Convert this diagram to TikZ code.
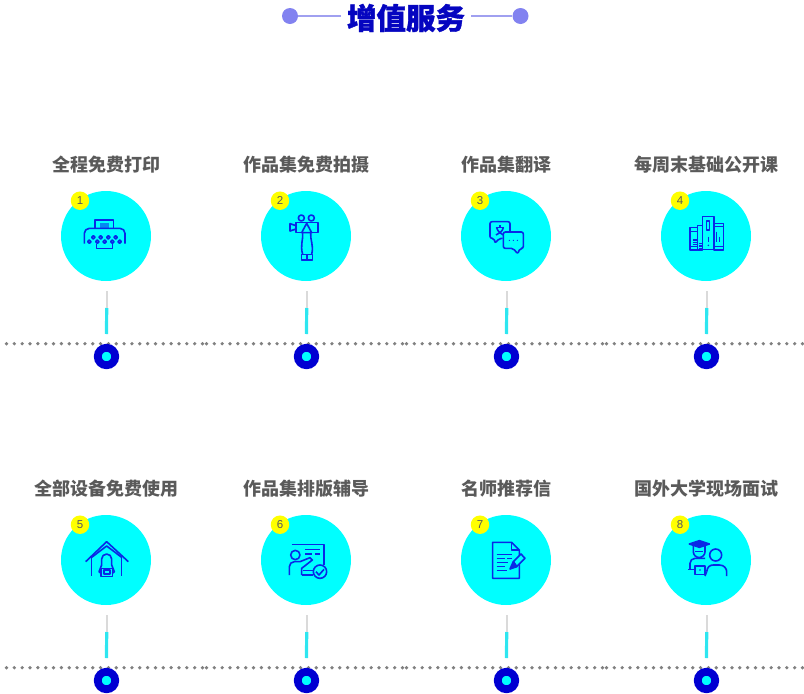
\documentclass[tikz,border=0pt]{standalone}
\usepackage{fontspec}
\usepackage{xcolor}
\usetikzlibrary{calc}
\newfontfamily\cjk{Noto Sans CJK SC}
\newfontfamily\cjkhead{Noto Sans CJK SC}[BoldFeatures={FakeBold=1.2}]
\setmainfont{Liberation Sans}
\definecolor{titleblue}{HTML}{0505C0}
\definecolor{dotblue}{HTML}{8282F0}
\definecolor{ruleblue}{HTML}{A0A0F0}
\definecolor{iconblue}{HTML}{0A28E6}
\definecolor{ringblue}{HTML}{0000D2}
\definecolor{headgrey}{HTML}{5A5A5A}
\definecolor{disccyan}{HTML}{00FFFF}
\definecolor{stemcyan}{HTML}{2EE6F0}
\definecolor{stemgrey}{HTML}{DADADA}
\definecolor{dotgrey}{HTML}{808080}
\definecolor{badgeyellow}{HTML}{FFFF00}
\tikzset{
  headline/.style={inner sep=0, font=\cjkhead\bfseries\fontsize{29.5}{30}\selectfont, text=titleblue},
  headdot/.style={circle, fill=dotblue, minimum size=16pt, inner sep=0},
  headrule/.style={draw=ruleblue, line width=1.2pt},
  itemname/.style={inner sep=0, font=\cjk\bfseries\fontsize{18}{18}\selectfont, text=headgrey},
  itemdisc/.style={circle, fill=disccyan, minimum size=90pt, inner sep=0},
  itembadge/.style={circle, fill=badgeyellow, minimum size=18.5pt, inner sep=0, text=headgrey, font=\fontsize{11.5}{12}\selectfont},
  itemring/.style={circle, draw=ringblue, fill=disccyan, line width=7.8pt, minimum size=17.5pt, inner sep=0},
  stemtop/.style={draw=stemgrey, line width=2pt},
  stemlow/.style={draw=stemcyan, line width=3.2pt},
  dotrule/.style={draw=dotgrey, line width=3.7pt, line cap=round, dash pattern=on 0pt off 7.84pt},
  icongrid/.style={shift={(#1.center)}, x=.3333pt, y=-.3333pt, shift={(-168,-153)},
    draw=iconblue, line width=1.6pt, line join=round},
  icongridlow/.style={shift={(#1.center)}, x=.3333pt, y=-.3333pt, shift={(-168,-150)},
    draw=iconblue, line width=1.6pt, line join=round},
}
% one service: name, x, y of the disc, title, number
\newcommand{\serviceitem}[5]{
  \node[itemdisc] (#1) at (#2, #3) {};
  \node[itemname] (#1name) at (#2+.5, #3-71.2) {#4};
  \node[itembadge] (#1badge) at (#2-26, #3-35.3) {#5};
  \coordinate (#1a) at (#2+.7, #3+55);
  \coordinate (#1b) at (#2+.7, #3+72);
  \coordinate (#1c) at (#2+.5, #3+98);
  \draw[stemtop] (#1a) -- (#1b);
  \draw[stemlow] (#1b) -- (#1c);
  \node[itemring] (#1ring) at (#2+.5, #3+120.5) {};
}
\begin{document}
\begin{tikzpicture}[x=1pt, y=-1pt]
  \useasboundingbox (0, 0) rectangle (804, 694);

  % heading
  \node[headline] (head) at (406, 18) {增值服务};
  \node[headdot] (headl) at (290, 16) {};
  \node[headdot] (headr) at (520.5, 16) {};
  \coordinate (headla) at (341, 16);
  \coordinate (headra) at (470.5, 16);
  \draw[headrule] (headl) -- (headla);
  \draw[headrule] (headr) -- (headra);

  % dotted rows
  \coordinate (ra) at (6.5, 343.7);
  \coordinate (rb) at (206.5, 343.7);
  \coordinate (rc) at (406.5, 343.7);
  \coordinate (rd) at (606.5, 343.7);
  \coordinate (re) at (804, 343.7);
  \draw[dotrule] (ra) -- (rb);
  \draw[dotrule] (rb) -- (rc);
  \draw[dotrule] (rc) -- (rd);
  \draw[dotrule] (rd) -- (re);
  \coordinate (sa) at (6.5, 667.7);
  \coordinate (sb) at (206.5, 667.7);
  \coordinate (sc) at (406.5, 667.7);
  \coordinate (sd) at (606.5, 667.7);
  \coordinate (se) at (804, 667.7);
  \draw[dotrule] (sa) -- (sb);
  \draw[dotrule] (sb) -- (sc);
  \draw[dotrule] (sc) -- (sd);
  \draw[dotrule] (sd) -- (se);

  \serviceitem{print}{106}{236}{全程免费打印}{1}
  \serviceitem{photo}{306}{236}{作品集免费拍摄}{2}
  \serviceitem{trans}{506}{236}{作品集翻译}{3}
  \serviceitem{week}{706}{236}{每周末基础公开课}{4}
  \serviceitem{equip}{106}{560}{全部设备免费使用}{5}
  \serviceitem{layout}{306}{560}{作品集排版辅导}{6}
  \serviceitem{letter}{506}{560}{名师推荐信}{7}
  \serviceitem{face}{706}{560}{国外大学现场面试}{8}

  % printer
  \begin{scope}[icongrid=print]
    \draw (135, 130) -- (135, 105) -- (190, 105) -- (190, 130);
    \fill[iconblue!55!disccyan] (150, 115) rectangle (178, 131);
    \draw[rounded corners=5pt] (103, 176) -- (103, 130) -- (225, 130) -- (225, 176);
    \foreach \cx in {130, 152, 175, 197} \draw (\cx, 157) circle (5);
    \foreach \cx in {118, 142, 164, 187, 209} \draw (\cx, 170) circle (5);
    \draw (140, 176) -- (140, 190) -- (188, 190) -- (188, 176);
  \end{scope}

  % film camera
  \begin{scope}[icongrid=photo]
    \draw (154, 99) circle (9);
    \draw (184, 99) circle (9);
    \draw (138, 113) rectangle (204, 143);
    \draw (138, 122) -- (120, 116) -- (120, 138) -- (138, 132);
    \draw (170, 115) -- (155, 143) -- (185, 143) -- cycle;
    \draw (158, 143) .. controls (160, 165) and (150, 180) .. (158, 208);
    \draw (182, 143) .. controls (180, 165) and (192, 180) .. (185, 208);
    \draw (155, 208) rectangle (188, 225);
    \draw (171, 208) -- (171, 225);
  \end{scope}

  % speech bubbles
  \begin{scope}[icongrid=trans]
    \draw[rounded corners=2pt] (158, 160) -- (148, 160) -- (135, 175) -- (133, 160) -- (120, 160) -- (120, 110) -- (180, 110) -- (180, 141);
    \draw (137, 128) -- (163, 128);
    \draw (150, 120) -- (150, 128);
    \draw (140, 128) .. controls (145, 140) .. (160, 150);
    \draw (160, 128) .. controls (155, 140) .. (138, 150);
    \draw[rounded corners=2pt] (160, 141) -- (220, 141) -- (220, 190) -- (210, 190) -- (203, 207) -- (190, 190) -- (160, 190) -- cycle;
    \foreach \cx in {178, 190, 202} \fill[iconblue] (\cx, 166) circle (2);
  \end{scope}

  % books
  \begin{scope}[icongrid=week]
    \draw (120, 128) rectangle (143, 195);
    \draw (120, 140) -- (143, 140);
    \draw (120, 185) -- (143, 185);
    \draw (128, 165) -- (140, 165);
    \draw (128, 172) -- (140, 172);
    \draw (128, 179) -- (140, 179);
    \draw (143, 122) rectangle (157, 195);
    \draw (147, 175) -- (155, 175);
    \draw (147, 183) -- (155, 183);
    \draw (147, 190) -- (155, 190);
    \draw (157, 95) rectangle (192, 193);
    \draw (170, 108) rectangle (178, 135);
    \draw (175, 155) -- (175, 170);
    \fill[iconblue] (175, 181) circle (2.5);
    \draw (192, 115) rectangle (220, 195);
    \draw (192, 125) -- (220, 125);
    \draw (192, 185) -- (220, 185);
    \draw (200, 140) -- (200, 172);
    \draw (209, 155) -- (209, 172);
  \end{scope}

  % house with apron
  \begin{scope}[icongridlow=equip]
    \draw (107, 155) -- (170, 95) -- (235, 155);
    \draw (125, 142) -- (125, 197);
    \draw (215, 142) -- (215, 197);
    \draw (125, 142) -- (170, 108) -- (215, 142);
    \draw (155, 165) -- (155, 147) arc (180:360:15) -- (185, 165);
    \draw (155, 165) -- (147, 185) -- (153, 190);
    \draw (185, 165) -- (193, 185) -- (187, 190);
    \draw (153, 175) rectangle (187, 200);
    \draw (162, 180) rectangle (180, 192);
  \end{scope}

  % teacher at board
  \begin{scope}[icongridlow=layout]
    \draw (125, 103) -- (222, 103) -- (222, 165);
    \draw (136, 135) circle (14);
    \draw (165, 118) -- (210, 118);
    \draw (165, 132) -- (185, 132);
    \draw (195, 132) -- (210, 132);
    \draw (118, 195) -- (118, 170) arc (180:270:15) -- (150, 155) -- (180, 143) -- (187, 150) -- (155, 175) -- (155, 195);
    \draw (160, 182) -- (188, 182);
    \draw (155, 195) -- (190, 195);
    \draw (210, 185) circle (20);
    \draw (198, 185) -- (207, 195) -- (222, 178);
  \end{scope}

  % letter and pen
  \begin{scope}[icongridlow=letter]
    \draw (128, 97) -- (185, 97) -- (208, 120) -- (208, 205) -- (128, 205) -- cycle;
    \draw (185, 97) -- (185, 120) -- (208, 120);
    \draw (140, 133) -- (185, 133);
    \draw (140, 145) -- (165, 145);
    \draw (172, 145) -- (185, 145);
    \draw (140, 157) -- (175, 157);
    \draw (140, 169) -- (165, 169);
    \draw (140, 181) -- (170, 181);
    \draw[fill=disccyan] (190, 155) -- (213, 132) -- (225, 145) -- (200, 170) -- cycle;
    \draw[fill=iconblue] (190, 155) -- (180, 177) -- (200, 170) -- cycle;
  \end{scope}

  % graduate and student
  \begin{scope}[icongridlow=face]
    \draw[fill=iconblue] (118, 102) -- (148, 92) -- (178, 102) -- (148, 112) -- cycle;
    \draw (130, 108) -- (130, 125) arc (180:0:17.5) -- (165, 108);
    \draw (135, 125) -- (160, 125);
    \draw (120, 178) -- (120, 160) arc (180:270:15) -- (165, 145);
    \draw (135, 168) rectangle (165, 193);
    \draw (115, 178) -- (135, 178);
    \fill[iconblue] (150, 180) circle (2.5);
    \draw (197, 135) circle (18);
    \draw (170, 185) .. controls (172, 170) and (180, 165) .. (190, 165) -- (208, 165) .. controls (222, 165) and (230, 175) .. (230, 185) -- (230, 198);
    \draw (165, 198) -- (170, 185);
  \end{scope}
\end{tikzpicture}
\end{document}
